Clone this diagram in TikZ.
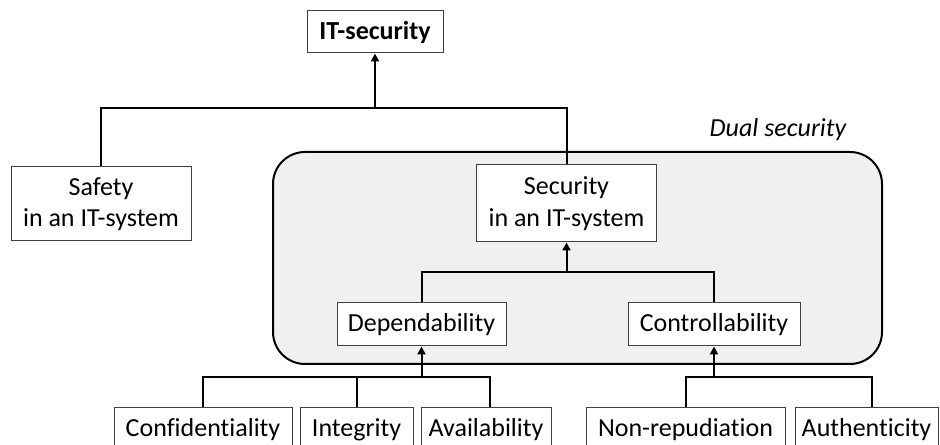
\documentclass[tikz,border=0pt]{standalone}
\usepackage{fontspec}
\setmainfont{Carlito}[Ligatures=NoCommon]
\usetikzlibrary{arrows.meta}

\tikzset{every picture/.style={line width=0.75pt}}
\tikzset{
  box/.style={draw={rgb, 255:red, 64; green, 64; blue, 64 }, line width=0.75pt, fill=white, align=center, inner sep=0pt, font=\fontsize{19.5}{23.5}\selectfont},
  boxsize/.style 2 args={minimum width=#1*0.75pt, minimum height=#2*0.75pt},
  link/.style={draw=black, line width=1.5pt},
  uparrow/.style={link, -{Triangle[width=6pt,length=6pt]}}
}

\begin{document}
\begin{tikzpicture}[x=0.75pt,y=0.75pt,yscale=-1,xscale=1]
	%set diagram to 940 x 445
	\clip (0,0) rectangle (940,445);
	\fill [white] (0,0) rectangle (940,445);
	
	%Shape: Rounded Rect
	\draw  [fill={rgb, 255:red, 240; green, 240; blue, 240 }  ,fill opacity=1 ][line width=1.5pt][rounded corners=24pt] (273,152) rectangle (882,364) ;
	% Text Node
	\node (dual) at (778,130) {\fontsize{19.5}{23.5}\selectfont\itshape Dual security};
	
	% Boxes
	\node [box, boxsize={136}{42}] (itsec) at (375,32) {\textbf{IT-security}};
	\node [box, boxsize={180}{74}] (safety) at (101,204) {Safety\\in an IT-system};
	\node [box, boxsize={180}{77}] (secsys) at (566.5,203.5) {Security\\in an IT-system};
	\node [box, boxsize={169}{43}] (depend) at (421.5,324.5) {Dependability};
	\node [box, boxsize={172}{43}] (control) at (714,324.5) {Controllability};
	\node [box, boxsize={178}{44}] (conf) at (203,430) {Confidentiality};
	\node [box, boxsize={113}{44}] (integ) at (356.5,430) {Integrity};
	\node [box, boxsize={130}{44}] (avail) at (486,430) {Availability};
	\node [box, boxsize={199}{44}] (nonrep) at (685.5,430) {Non-repudiation};
	\node [box, boxsize={143}{44}] (auth) at (866.5,430) {Authenticity};
	
	% Junctions
	\coordinate (jtop) at (375,108);
	\coordinate (jmid) at (566.5,272);
	\coordinate (jleft) at (421.5,377);
	\coordinate (jright) at (714,377);
	
	%Straight Lines
	\draw [link] (safety.north) |- (jtop) -| (secsys.north) ;
	\draw [uparrow] (jtop) -- (itsec.south) ;
	\draw [link] (depend.north) |- (jmid) -| (control.north) ;
	\draw [uparrow] (jmid) -- (secsys.south) ;
	\draw [link] (conf.north) |- (jleft) -| ([xshift=3pt]avail.north) ;
	\draw [link] (integ.north) -- (integ.north |- jleft) ;
	\draw [uparrow] (jleft) -- (depend.south) ;
	\draw [link] (nonrep.north) |- (jright) -| ([xshift=4pt]auth.north) ;
	\draw [uparrow] (jright) -- (control.south) ;
	
\end{tikzpicture}
\end{document}
